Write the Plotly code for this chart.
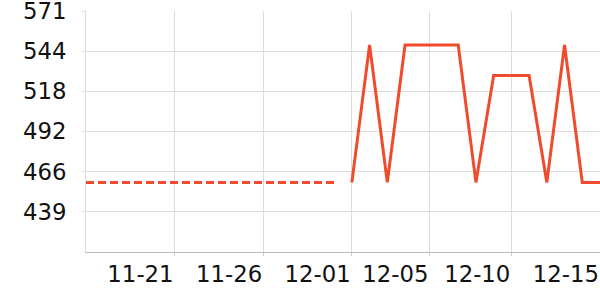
import plotly.graph_objects as go

hist_dates = ["2023-11-%02d" % d for d in range(16, 31)]
hist_values = [459] * 15

cur_dates = ["2023-12-%02d" % d for d in range(1, 16)]
cur_values = [459, 549, 459, 549, 549, 549, 549, 459, 529, 529, 529, 459, 549, 459, 459]

y_tickvals = [439.75, 466.05, 492.35, 518.65, 544.95, 571.25]
y_ticktext = ["439", "466", "492", "518", "544", "571"]
y_range = [413.45, 571.25]

x_tickvals = ["2023-11-21", "2023-11-26", "2023-12-01", "2023-12-05 09:00", "2023-12-10", "2023-12-15"]
x_ticktext = ["11-21", "11-26", "12-01", "12-05", "12-10", "12-15"]
x_range = ["2023-11-16", "2023-12-15"]

color = "#f04b2c"
font_family = "DejaVu Sans"
font_size = 22.8

fig = go.Figure()
fig.add_trace(go.Scatter(x=hist_dates, y=hist_values, mode="lines",
                         line=dict(color=color, width=3, dash="8px,4px"),
                         showlegend=False, hoverinfo="skip"))
fig.add_trace(go.Scatter(x=cur_dates, y=cur_values, mode="lines",
                         line=dict(color=color, width=3),
                         showlegend=False))

fig.update_layout(
    width=600, height=300,
    margin=dict(l=86, r=0, t=11, b=48, autoexpand=False),
    paper_bgcolor="white", plot_bgcolor="white",
    font=dict(family=font_family, size=font_size, color="#111111"),
)
fig.update_xaxes(
    type="date", range=x_range, automargin=False,
    tickmode="array", tickvals=x_tickvals, ticktext=x_ticktext,
    ticklabelposition="outside left", ticklabeloverflow="allow",
    showgrid=True, gridcolor="#dddddd", gridwidth=1,
    showline=True, linecolor="#bbbbbb", linewidth=1,
    ticks="outside", ticklen=3, tickcolor="#cccccc",
    zeroline=False, tickfont=dict(size=font_size, family=font_family),
    ticklabelstandoff=2,
)
fig.update_yaxes(
    range=y_range, automargin=False,
    tickmode="array", tickvals=y_tickvals, ticktext=y_ticktext,
    ticklabeloverflow="allow",
    showgrid=True, gridcolor="#dddddd", gridwidth=1,
    showline=True, linecolor="#dddddd", linewidth=1,
    ticks="outside", ticklen=3, tickcolor="#dddddd",
    zeroline=False, tickfont=dict(size=font_size, family=font_family),
    ticklabelstandoff=11,
)

fig.write_html("out.html")
